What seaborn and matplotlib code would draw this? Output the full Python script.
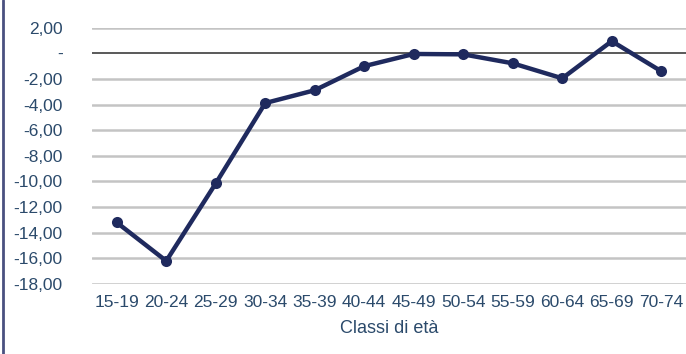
import matplotlib
matplotlib.use("Agg")
import matplotlib.pyplot as plt
import seaborn as sns
import pandas as pd
from matplotlib.lines import Line2D
from matplotlib.ticker import FixedLocator, FuncFormatter

categories = ["15-19", "20-24", "25-29", "30-34", "35-39", "40-44",
              "45-49", "50-54", "55-59", "60-64", "65-69", "70-74"]
values = [-13.2, -16.2, -10.15, -3.88, -2.88, -1.0,
          -0.05, -0.08, -0.78, -1.95, 0.95, -1.4]
y_ticks = [2, 0, -2, -4, -6, -8, -10, -12, -14, -16, -18]

df = pd.DataFrame({"classe": categories, "valore": values})

sns.set_theme(style="white")
plt.rcParams["font.family"] = ["Liberation Sans", "DejaVu Sans"]

text_color = "#2b4a6b"
line_color = "#1f2a5e"

fig = plt.figure(figsize=(6.86, 3.54), dpi=100)
ax = fig.add_axes([92 / 686, 1 - 284 / 354, (686 - 92) / 686, (284 - 27.7) / 354])

for t in y_ticks:
    ax.axhline(t, color="#595959" if t == 0 else "#c4c4c4",
               lw=1.4 if t == 0 else 1.8, zorder=1)

sns.lineplot(data=df, x="classe", y="valore", ax=ax, color=line_color,
             lw=3.2, marker="o", markersize=8, markeredgewidth=0,
             sort=False, zorder=3)

ax.set_xlim(-0.5, len(categories) - 0.5)
ax.set_ylim(-18, 2)
ax.yaxis.set_major_locator(FixedLocator(y_ticks))


def fmt(v, pos):
    if abs(v) < 1e-9:
        return "-"
    return f"{v:.2f}".replace(".", ",")


ax.yaxis.set_major_formatter(FuncFormatter(fmt))
for s in ax.spines.values():
    s.set_visible(False)
ax.tick_params(axis="both", length=0, labelsize=12.5, colors=text_color)
ax.tick_params(axis="y", pad=21)
ax.tick_params(axis="x", pad=8)
for lab in ax.get_yticklabels():
    lab.set_horizontalalignment("right")
ax.set_ylabel("")
ax.set_xlabel("Classi di età", fontsize=13, color=text_color, labelpad=7)

fig.add_artist(Line2D([3 / 686, 3 / 686], [0, 1], transform=fig.transFigure,
                      color="#4a5080", lw=2))

fig.savefig("out.png", dpi=100)
